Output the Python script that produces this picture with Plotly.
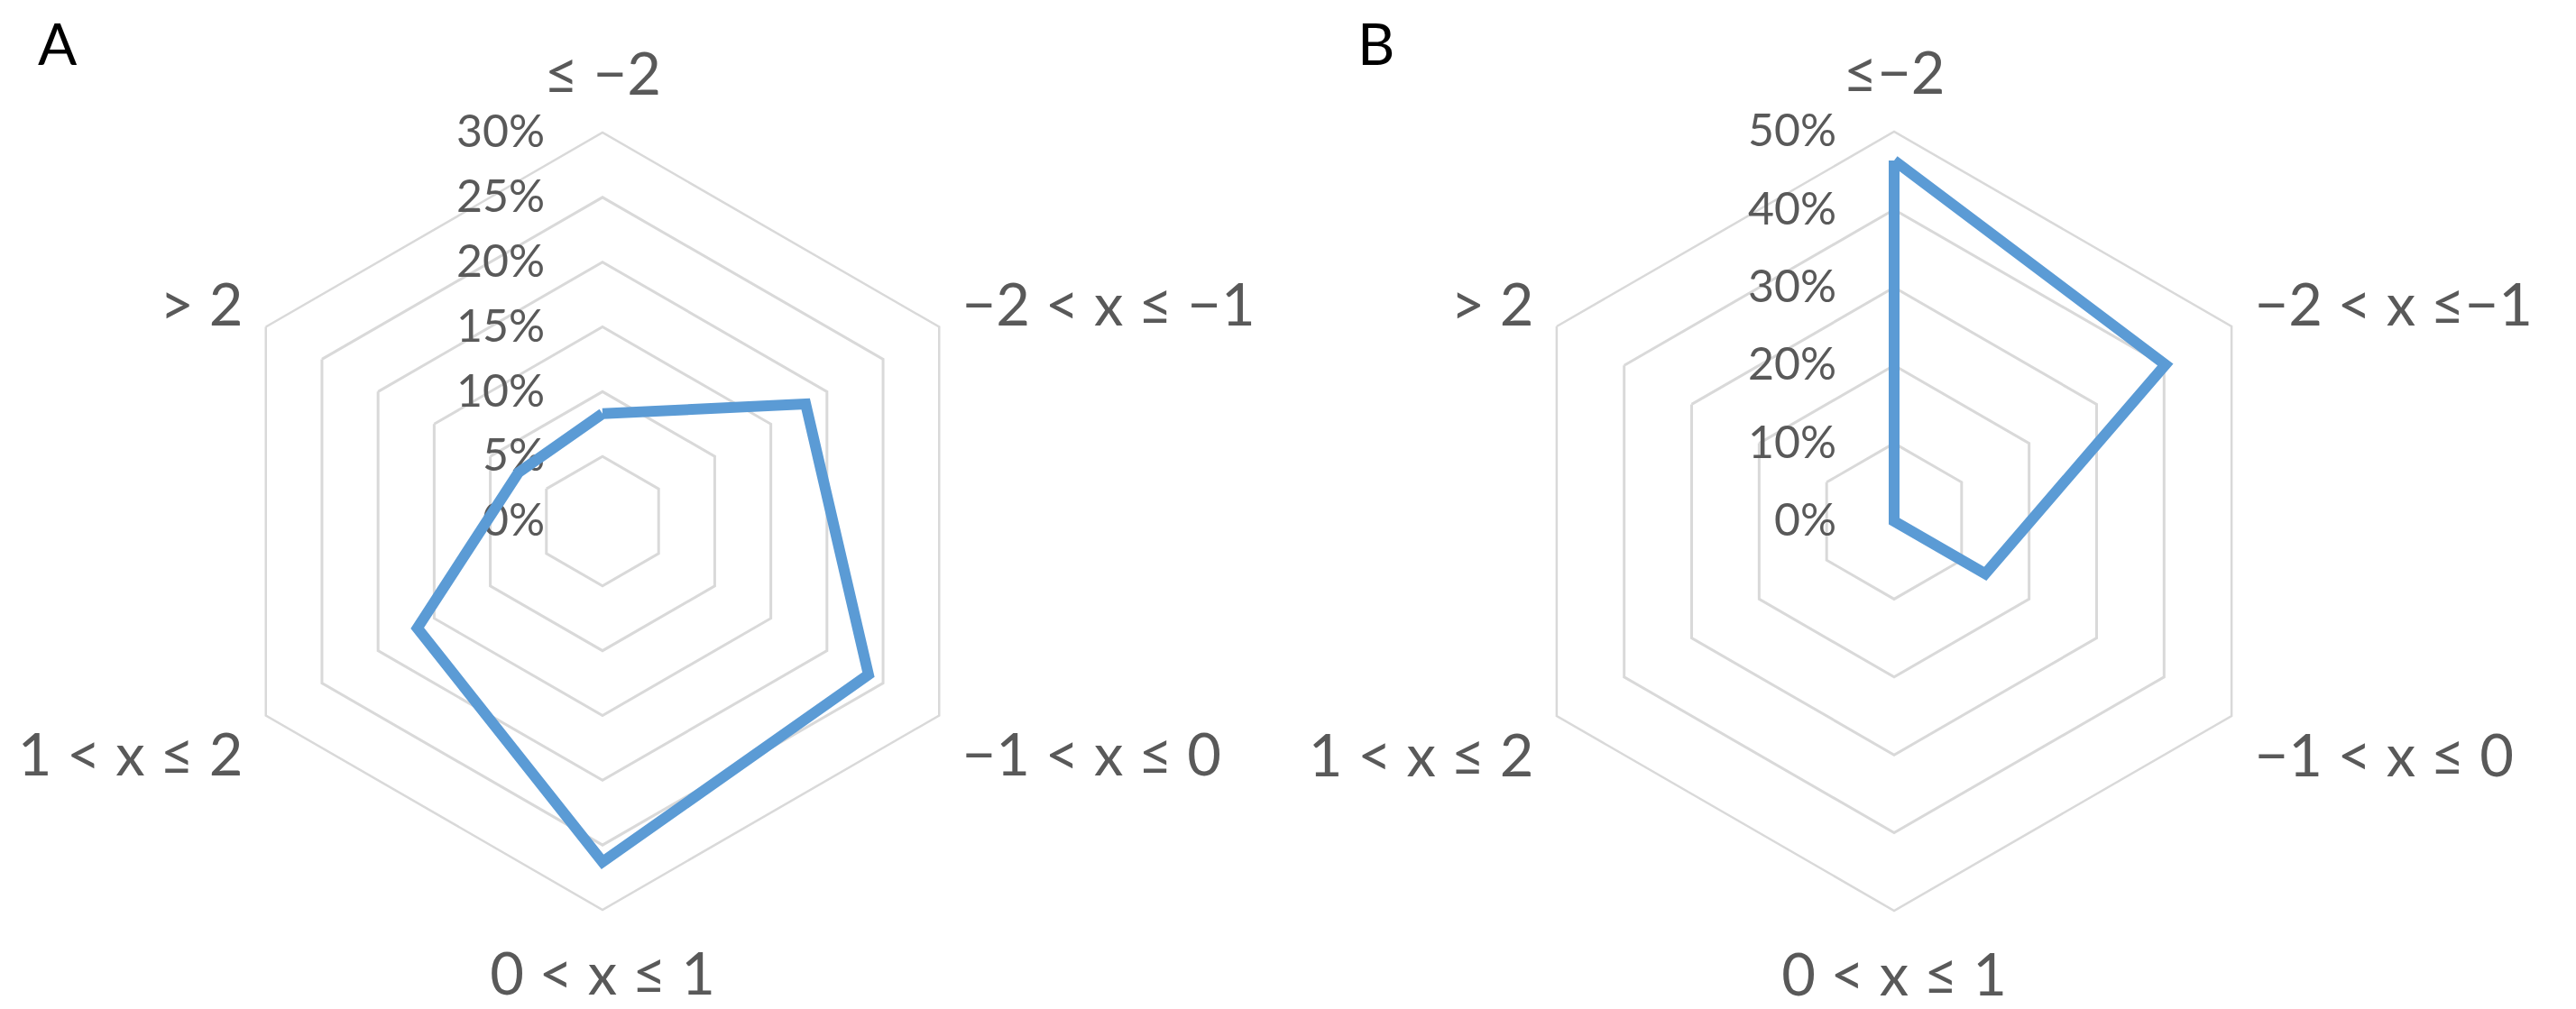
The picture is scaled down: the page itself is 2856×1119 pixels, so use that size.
import plotly.graph_objects as go

# Categories (clockwise from top)
categories_a = ["≤ −2", "−2 < x ≤ −1", "−1 < x ≤ 0", "0 < x ≤ 1", "1 < x ≤ 2", "> 2"]
categories_b = ["≤−2", "−2 < x ≤−1", "−1 < x ≤ 0", "0 < x ≤ 1", "1 < x ≤ 2", "> 2"]

# Percent of cases per bin
values_a = [8.3, 18.1, 23.7, 26.3, 16.5, 7.5]
values_b = [46.3, 40.2, 13.5, 0.0, 0.0, 0.0]

range_a = [0, 30]
range_b = [0, 50]
dtick_a = 5
dtick_b = 10

panel_labels = ["A", "B"]

LINE = "#5b9bd5"
GRID = "#d9d9d9"
TEXT = "#595959"
FONT = "Lato, 'Open Sans', sans-serif"

fig = go.Figure()

fig.add_trace(go.Scatterpolar(
    r=values_a + values_a[:1], theta=categories_a + categories_a[:1],
    mode="lines", line=dict(color=LINE, width=12), subplot="polar",
    showlegend=False, hoverinfo="skip"))
fig.add_trace(go.Scatterpolar(
    r=values_b + values_b[:1], theta=categories_b + categories_b[:1],
    mode="lines", line=dict(color=LINE, width=12), subplot="polar2",
    showlegend=False, hoverinfo="skip"))

def polar_layout(domain_x, domain_y, rng, dtick, cats):
    return dict(
        domain=dict(x=domain_x, y=domain_y),
        gridshape="linear",
        bgcolor="white",
        radialaxis=dict(
            range=rng, dtick=dtick, tick0=0, ticksuffix="%",
            angle=90, tickangle=90, side="counterclockwise",
            showline=False, showgrid=True, gridcolor=GRID, gridwidth=2.5,
            ticks="outside", ticklen=46, tickcolor="rgba(0,0,0,0)",
            tickfont=dict(family=FONT, size=50, color=TEXT),
            layer="below traces",
        ),
        angularaxis=dict(
            type="category", categoryarray=cats, direction="clockwise", rotation=90,
            showgrid=False, showline=True, linecolor=GRID, linewidth=2.5,
            ticks="outside", ticklen=15, tickcolor="rgba(0,0,0,0)",
            tickfont=dict(family=FONT, size=65, color=TEXT),
            layer="below traces",
        ),
    )

W, H = 2856, 1119
fig.update_layout(
    width=W, height=H,
    margin=dict(l=0, r=0, t=0, b=0),
    paper_bgcolor="white", plot_bgcolor="white",
    polar=polar_layout([229 / W, 1091 / W], [118 / H, 980 / H], range_a, dtick_a, categories_a),
    polar2=polar_layout([1660 / W, 2524 / W], [117 / H, 981 / H], range_b, dtick_b, categories_b),
    annotations=[
        dict(text=panel_labels[0], x=56 / W, y=1 - 40 / H, xref="paper", yref="paper",
             showarrow=False, font=dict(family=FONT, size=64, color="black"),
             xanchor="center", yanchor="middle"),
        dict(text=panel_labels[1], x=1517 / W, y=1 - 40 / H, xref="paper", yref="paper",
             showarrow=False, font=dict(family=FONT, size=64, color="black"),
             xanchor="center", yanchor="middle"),
    ],
)

fig.write_html("out.html")
